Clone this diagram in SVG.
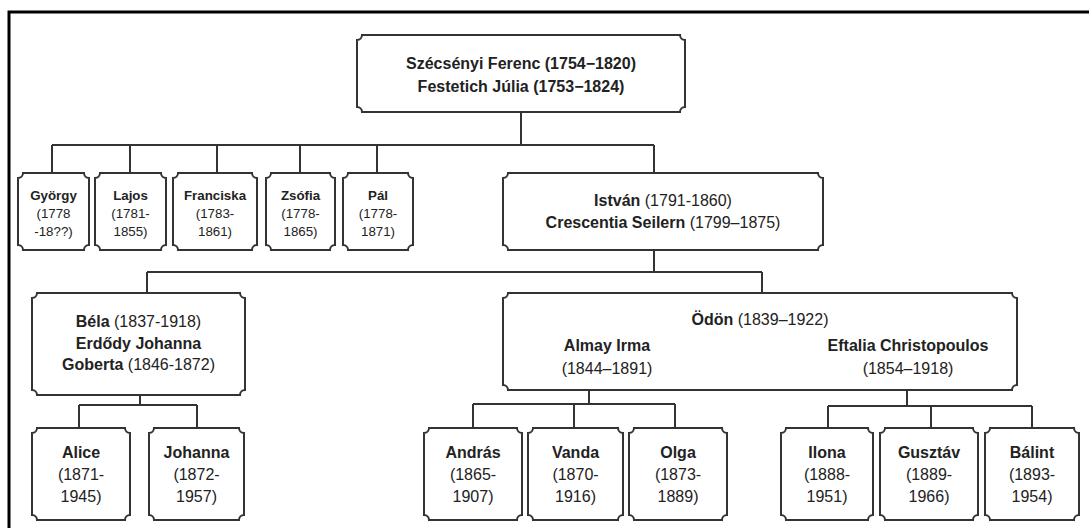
<svg xmlns="http://www.w3.org/2000/svg" width="1089" height="528" viewBox="0 0 1089 528">
<style>
.box{fill:#fff;stroke:#333;stroke-width:2}
.ln{fill:none;stroke:#333;stroke-width:2}
text{font-family:"Liberation Sans",Arial,sans-serif;fill:#222;text-anchor:middle}
.b{font-weight:bold}
.f16{font-size:16px}
.f13{font-size:13.3px}
</style>
<rect x="0" y="0" width="1089" height="528" fill="#fff"/>
<path d="M9,540 V12 H1100" fill="none" stroke="#000" stroke-width="3"/>
<g id="connectors">
<path class="ln" d="M521,112 V145 M52,145 H654 M52,145 V173 M130,145 V173 M217,145 V173 M300,145 V173 M377,145 V173 M654,145 V173"/>
<path class="ln" d="M654,250 V272 M147,272 H762 M147,272 V293 M762,272 V293"/>
<path class="ln" d="M140,395 V405 M79,405 H197 M79,405 V428 M197,405 V428"/>
<path class="ln" d="M589,390 V404 M473,404 H675 M473,404 V428 M574,404 V428 M675,404 V428"/>
<path class="ln" d="M907,390 V406 M828,406 H1032 M828,406 V428 M931,406 V428 M1032,406 V428"/>
</g>
<g id="n-ferenc">
<path class="box" d="M362,35 H680 A5,5 0 0 0 685,40 V107 A5,5 0 0 0 680,112 H362 A5,5 0 0 0 357,107 V40 A5,5 0 0 0 362,35 Z"/>
<text class="b f16" x="521" y="69">Szécsényi Ferenc (1754−1820)</text>
<text class="b f16" x="521" y="92">Festetich Júlia (1753−1824)</text>
</g>
<g id="n-gyorgy">
<path class="box" d="M23,173 H84 A5,5 0 0 0 89,178 V245 A5,5 0 0 0 84,250 H23 A5,5 0 0 0 18,245 V178 A5,5 0 0 0 23,173 Z"/>
<text class="b f13" x="53.5" y="200">György</text>
<text class="f13" x="53.5" y="218">(1778</text>
<text class="f13" x="53.5" y="236">-18??)</text>
</g>
<g id="n-lajos">
<path class="box" d="M100,173 H161 A5,5 0 0 0 166,178 V245 A5,5 0 0 0 161,250 H100 A5,5 0 0 0 95,245 V178 A5,5 0 0 0 100,173 Z"/>
<text class="b f13" x="130.5" y="200">Lajos</text>
<text class="f13" x="130.5" y="218">(1781-</text>
<text class="f13" x="130.5" y="236">1855)</text>
</g>
<g id="n-franciska">
<path class="box" d="M178,173 H252 A5,5 0 0 0 257,178 V245 A5,5 0 0 0 252,250 H178 A5,5 0 0 0 173,245 V178 A5,5 0 0 0 178,173 Z"/>
<text class="b f13" x="215" y="200">Franciska</text>
<text class="f13" x="215" y="218">(1783-</text>
<text class="f13" x="215" y="236">1861)</text>
</g>
<g id="n-zsofia">
<path class="box" d="M271,173 H330 A5,5 0 0 0 335,178 V245 A5,5 0 0 0 330,250 H271 A5,5 0 0 0 266,245 V178 A5,5 0 0 0 271,173 Z"/>
<text class="b f13" x="300.5" y="200">Zsófia</text>
<text class="f13" x="300.5" y="218">(1778-</text>
<text class="f13" x="300.5" y="236">1865)</text>
</g>
<g id="n-pal">
<path class="box" d="M348,173 H408 A5,5 0 0 0 413,178 V245 A5,5 0 0 0 408,250 H348 A5,5 0 0 0 343,245 V178 A5,5 0 0 0 348,173 Z"/>
<text class="b f13" x="378" y="200">Pál</text>
<text class="f13" x="378" y="218">(1778-</text>
<text class="f13" x="378" y="236">1871)</text>
</g>
<g id="n-istvan">
<path class="box" d="M508,173 H818 A5,5 0 0 0 823,178 V245 A5,5 0 0 0 818,250 H508 A5,5 0 0 0 503,245 V178 A5,5 0 0 0 508,173 Z"/>
<text class="f16" x="663" y="206"><tspan class="b">István</tspan> (1791-1860)</text>
<text class="f16" x="663" y="228"><tspan class="b">Crescentia Seilern</tspan> (1799–1875)</text>
</g>
<g id="n-bela">
<path class="box" d="M37,293 H240 A5,5 0 0 0 245,298 V390 A5,5 0 0 0 240,395 H37 A5,5 0 0 0 32,390 V298 A5,5 0 0 0 37,293 Z"/>
<text class="f16" x="138.5" y="327"><tspan class="b">Béla</tspan> (1837-1918)</text>
<text class="f16 b" x="138.5" y="348.5">Erdődy Johanna</text>
<text class="f16" x="138.5" y="370"><tspan class="b">Goberta</tspan> (1846-1872)</text>
</g>
<g id="n-odon">
<path class="box" d="M508,293 H1012 A5,5 0 0 0 1017,298 V385 A5,5 0 0 0 1012,390 H508 A5,5 0 0 0 503,385 V298 A5,5 0 0 0 508,293 Z"/>
<text class="f16" x="760" y="325"><tspan class="b">Ödön</tspan> (1839–1922)</text>
<text class="f16 b" x="607" y="351">Almay Irma</text>
<text class="f16" x="607" y="374">(1844–1891)</text>
<text class="f16 b" x="908" y="351">Eftalia Christopoulos</text>
<text class="f16" x="908" y="374">(1854–1918)</text>
</g>
<g id="n-alice">
<path class="box" d="M37,428 H125 A5,5 0 0 0 130,433 V515 A5,5 0 0 0 125,520 H37 A5,5 0 0 0 32,515 V433 A5,5 0 0 0 37,428 Z"/>
<text class="b f16" x="81" y="458">Alice</text>
<text class="f16" x="81" y="480">(1871-</text>
<text class="f16" x="81" y="502">1945)</text>
</g>
<g id="n-johanna">
<path class="box" d="M154,428 H239 A5,5 0 0 0 244,433 V515 A5,5 0 0 0 239,520 H154 A5,5 0 0 0 149,515 V433 A5,5 0 0 0 154,428 Z"/>
<text class="b f16" x="196.5" y="458">Johanna</text>
<text class="f16" x="196.5" y="480">(1872-</text>
<text class="f16" x="196.5" y="502">1957)</text>
</g>
<g id="n-andras">
<path class="box" d="M429,428 H517 A5,5 0 0 0 522,433 V515 A5,5 0 0 0 517,520 H429 A5,5 0 0 0 424,515 V433 A5,5 0 0 0 429,428 Z"/>
<text class="b f16" x="473" y="458">András</text>
<text class="f16" x="473" y="480">(1865-</text>
<text class="f16" x="473" y="502">1907)</text>
</g>
<g id="n-vanda">
<path class="box" d="M533,428 H618 A5,5 0 0 0 623,433 V515 A5,5 0 0 0 618,520 H533 A5,5 0 0 0 528,515 V433 A5,5 0 0 0 533,428 Z"/>
<text class="b f16" x="575.5" y="458">Vanda</text>
<text class="f16" x="575.5" y="480">(1870-</text>
<text class="f16" x="575.5" y="502">1916)</text>
</g>
<g id="n-olga">
<path class="box" d="M634,428 H722 A5,5 0 0 0 727,433 V515 A5,5 0 0 0 722,520 H634 A5,5 0 0 0 629,515 V433 A5,5 0 0 0 634,428 Z"/>
<text class="b f16" x="678" y="458">Olga</text>
<text class="f16" x="678" y="480">(1873-</text>
<text class="f16" x="678" y="502">1889)</text>
</g>
<g id="n-ilona">
<path class="box" d="M786,428 H868 A5,5 0 0 0 873,433 V515 A5,5 0 0 0 868,520 H786 A5,5 0 0 0 781,515 V433 A5,5 0 0 0 786,428 Z"/>
<text class="b f16" x="827" y="458">Ilona</text>
<text class="f16" x="827" y="480">(1888-</text>
<text class="f16" x="827" y="502">1951)</text>
</g>
<g id="n-gusztav">
<path class="box" d="M885,428 H973 A5,5 0 0 0 978,433 V515 A5,5 0 0 0 973,520 H885 A5,5 0 0 0 880,515 V433 A5,5 0 0 0 885,428 Z"/>
<text class="b f16" x="929" y="458">Gusztáv</text>
<text class="f16" x="929" y="480">(1889-</text>
<text class="f16" x="929" y="502">1966)</text>
</g>
<g id="n-balint">
<path class="box" d="M990,428 H1074 A5,5 0 0 0 1079,433 V515 A5,5 0 0 0 1074,520 H990 A5,5 0 0 0 985,515 V433 A5,5 0 0 0 990,428 Z"/>
<text class="b f16" x="1032" y="458">Bálint</text>
<text class="f16" x="1032" y="480">(1893-</text>
<text class="f16" x="1032" y="502">1954)</text>
</g>
</svg>
